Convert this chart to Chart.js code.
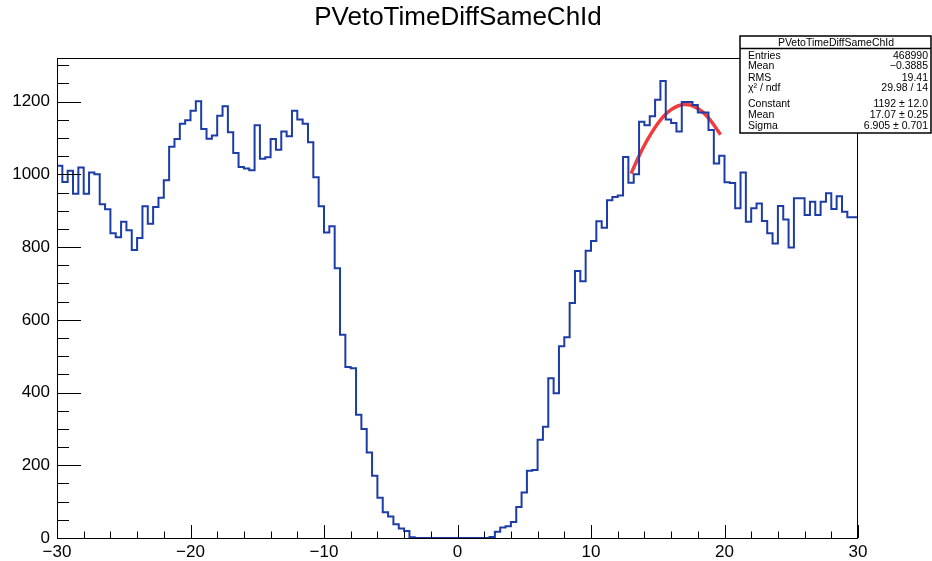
<!DOCTYPE html>
<html>
<head>
<meta charset="utf-8">
<script src="https://cdn.jsdelivr.net/npm/chart.js@4/dist/chart.umd.min.js"></script>
<style>
  body { margin: 0; background: #fff; }
  #wrap { width: 932px; height: 561px; }
</style>
</head>
<body>
<div id="wrap"><canvas id="hist" width="932" height="561"></canvas></div>
<script>
// histogram binning: 150 bins of 0.4 from -30 to 30
const binLow = -30
const binWidth = 0.4
const counts = [
  1009, 1024, 979, 1010, 947, 1019, 947, 1005, 1000, 918,
  904, 838, 827, 870, 846, 792, 825, 912, 864, 910,
  936, 984, 1076, 1097, 1139, 1149, 1175, 1201, 1125, 1098,
  1107, 1161, 1187, 1116, 1059, 1020, 1016, 1011, 1135, 1043,
  1047, 1097, 1068, 1118, 1105, 1175, 1151, 1139, 1088, 992,
  912, 840, 857, 742, 559, 470, 467, 339, 300, 235,
  171, 111, 71, 59, 38, 26, 19, 2, 0, 0,
  0, 0, 0, 0, 0, 0, 0, 0, 0, 0,
  0, 0, 3, 17, 29, 32, 44, 85, 125, 185,
  187, 270, 306, 439, 398, 527, 552, 646, 734, 706,
  790, 817, 871, 853, 929, 938, 942, 1048, 977, 1000,
  1145, 1135, 1160, 1205, 1257, 1151, 1141, 1118, 1199, 1199,
  1191, 1170, 1170, 1122, 1030, 1051, 978, 976, 907, 1005,
  870, 907, 920, 872, 838, 810, 913, 876, 799, 934,
  934, 888, 925, 888, 925, 948, 905, 940, 897, 882
]

// red fit curve
const fitX = [13, 13.5, 14, 14.5, 15, 15.5, 16, 16.5, 17, 17.5, 18, 18.5, 19, 19.5, 19.7]
const fitY = [1002, 1043, 1080, 1112, 1140, 1162, 1178, 1188, 1192, 1190, 1181, 1167, 1146, 1120, 1109]

const xTicks = [-30, -20, -10, 0, 10, 20, 30]
const yTicks = [0, 200, 400, 600, 800, 1000, 1200]

const statLabels = ['Entries', 'Mean', 'RMS', 'χ² / ndf', 'Constant', 'Mean', 'Sigma']
const statValues = ['468990', '−0.3885', '19.41', '29.98 / 14', '1192 ± 12.0', '17.07 ± 0.25', '6.905 ± 0.701']

const histPoints = counts.map((c, i) => ({ x: binLow + i * binWidth, y: c }))
histPoints.push({ x: binLow + counts.length * binWidth, y: counts[counts.length - 1] })
const fitPoints = fitX.map((x, i) => ({ x: x, y: fitY[i] }))

const FONT = '"Liberation Sans", Arial, sans-serif'
const minus = v => String(v).replace('-', '\u2212')

// ROOT style frame, inner ticks, title and stats box
const rootStyle = {
  id: 'rootStyle',
  afterDraw(chart) {
    const ctx = chart.ctx
    const a = chart.chartArea
    const xs = chart.scales.x
    const ys = chart.scales.y
    ctx.save()
    ctx.strokeStyle = '#000'
    ctx.lineWidth = 1
    ctx.strokeRect(a.left + 0.5, a.top + 0.5, a.right - a.left - 1, a.bottom - a.top)

    ctx.beginPath()
    for (let v = -30; v <= 30; v += 2) {
      const px = Math.round(xs.getPixelForValue(v)) + 0.5
      const len = v % 10 === 0 ? 13 : 6.5
      ctx.moveTo(px, a.bottom)
      ctx.lineTo(px, a.bottom - len)
    }
    for (let v = 0; v <= 1300; v += 50) {
      const py = Math.round(ys.getPixelForValue(v)) + 0.5
      const len = v % 200 === 0 ? 24 : 12
      ctx.moveTo(a.left, py)
      ctx.lineTo(a.left + len, py)
    }
    ctx.stroke()

    // title
    ctx.fillStyle = '#000'
    ctx.font = '26px ' + FONT
    ctx.textAlign = 'center'
    ctx.textBaseline = 'middle'
    ctx.fillText('PVetoTimeDiffSameChId', 458, 18)

    // stats box
    const bx = 740, by = 36, bw = 191, bh = 97
    ctx.fillStyle = '#fff'
    ctx.fillRect(bx, by, bw, bh)
    ctx.lineWidth = 1.5
    ctx.strokeRect(bx, by, bw, bh)
    ctx.beginPath()
    ctx.moveTo(bx, 48.5)
    ctx.lineTo(bx + bw, 48.5)
    ctx.stroke()
    ctx.fillStyle = '#000'
    ctx.font = '10.5px ' + FONT
    ctx.textAlign = 'center'
    ctx.fillText('PVetoTimeDiffSameChId', 836, 43)
    const rowY = [56, 66.5, 78, 88.5, 104, 115, 126]
    statLabels.forEach((l, i) => {
      ctx.textAlign = 'left'
      ctx.fillText(l, 748, rowY[i])
      ctx.textAlign = 'right'
      ctx.fillText(statValues[i], 928, rowY[i])
    })
    ctx.restore()
  }
}

new Chart(document.getElementById('hist'), {
  type: 'line',
  data: {
    datasets: [
      {
        data: histPoints,
        stepped: 'after',
        borderColor: '#1c3ca6',
        borderWidth: 2,
        pointRadius: 0,
        fill: false
      },
      {
        data: fitPoints,
        borderColor: '#f23c3c',
        borderWidth: 3.5,
        pointRadius: 0,
        cubicInterpolationMode: 'monotone',
        fill: false
      }
    ]
  },
  options: {
    responsive: false,
    animation: false,
    devicePixelRatio: 1,
    layout: { padding: { top: 58, right: 74, left: 0, bottom: 0 } },
    plugins: { legend: { display: false }, tooltip: { enabled: false }, title: { display: false } },
    scales: {
      x: {
        type: 'linear',
        min: -30,
        max: 30,
        afterBuildTicks: s => { s.ticks = xTicks.map(v => ({ value: v })) },
        afterFit: s => { s.height = 23 },
        grid: { display: false, drawTicks: false },
        border: { display: false },
        ticks: {
          autoSkip: false,
          maxRotation: 0,
          padding: 4,
          color: '#000',
          font: { family: FONT, size: 17 },
          callback: v => minus(v)
        }
      },
      y: {
        type: 'linear',
        min: 0,
        max: 1320,
        afterBuildTicks: s => { s.ticks = yTicks.map(v => ({ value: v })) },
        afterFit: s => { s.width = 57 },
        grid: { display: false, drawTicks: false },
        border: { display: false },
        ticks: {
          padding: 7,
          color: '#000',
          font: { family: FONT, size: 17 },
          callback: v => String(v)
        }
      }
    }
  },
  plugins: [rootStyle]
})
</script>
</body>
</html>
